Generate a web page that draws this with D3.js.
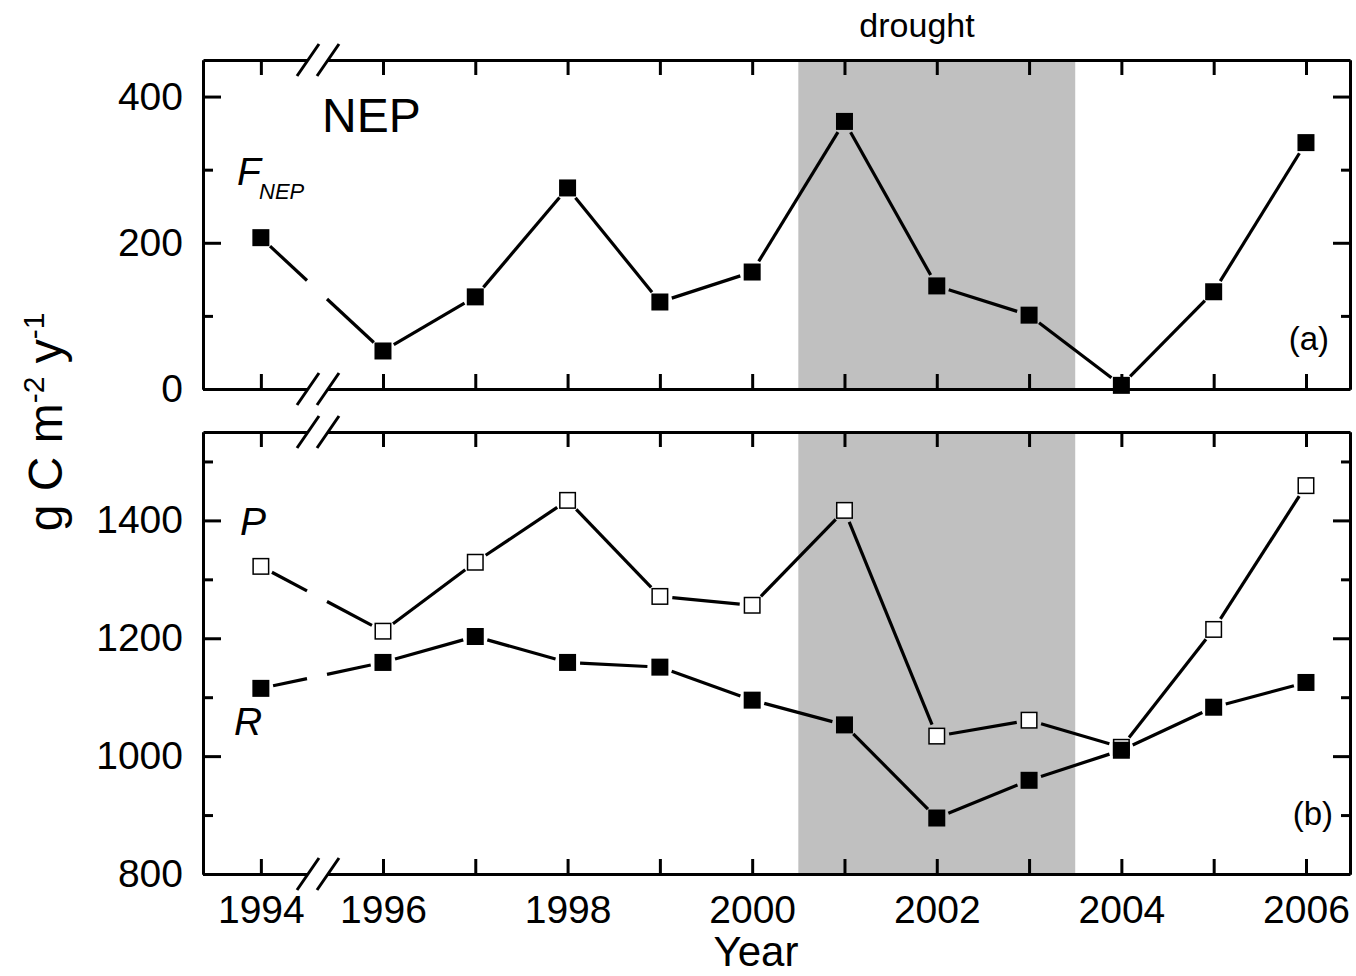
<!DOCTYPE html>
<html>
<head>
<meta charset="utf-8">
<script src="https://cdn.jsdelivr.net/npm/d3@7"></script>
<style>
  body { margin: 0; background: #fff; }
  svg { display: block; font-family: "Liberation Sans", Arial, sans-serif; }
</style>
</head>
<body>
<svg id="chart" width="1356" height="976"></svg>
<script>
// data
const years = [1994, 1996, 1997, 1998, 1999, 2000, 2001, 2002, 2003, 2004, 2005, 2006];
const fnep = [207, 52, 126, 275, 119, 160, 366, 141, 101, 5, 133, 337];
const pValues = [1322, 1212, 1329, 1434, 1271, 1256, 1417, 1034, 1061, 1015, 1215, 1459];
const rValues = [1115, 1159, 1203, 1159, 1151, 1095, 1053, 895, 959, 1010, 1083, 1125];
const droughtYears = [2000.5, 2003.5];
const xLabelYears = [1994, 1996, 1998, 2000, 2002, 2004, 2006];
const yTicksA = [0, 200, 400];
const yMinorA = [100, 300];
const yTicksB = [800, 1000, 1200, 1400];
const yMinorB = [900, 1100, 1300, 1500];

const svg = d3.select("#chart");
const left = 203, right = 1350;
const breakX = 318;

// broken x axis: 1994 sits left of the break, 1996..2006 to the right
const x = d3.scaleLinear()
    .domain([1993.372, 1994.62, 1995.296, 2006.477])
    .range([left, breakX, breakX, right]);

const panels = [
  { top: 60, bottom: 389, y: d3.scaleLinear().domain([0, 450]).range([389, 60]),
    major: yTicksA, minor: yMinorA, showX: false },
  { top: 432, bottom: 874, y: d3.scaleLinear().domain([800, 1550]).range([874, 432]),
    major: yTicksB, minor: yMinorB, showX: true }
];

const markerSize = 17, trim = 12.5;

function drawSeries(g, y, values, filled) {
  const pts = years.map((yr, i) => [x(yr), y(values[i])]);
  const segs = [];
  for (let i = 0; i < pts.length - 1; i++) {
    const [x0, y0] = pts[i], [x1, y1] = pts[i + 1];
    const len = Math.hypot(x1 - x0, y1 - y0);
    const ux = (x1 - x0) / len, uy = (y1 - y0) / len;
    const a = [x0 + ux * trim, y0 + uy * trim];
    const b = [x1 - ux * trim, y1 - uy * trim];
    if (x0 < breakX && x1 > breakX) {
      // gap where the line crosses the axis break
      const t0 = (breakX - 11 - x0) / (x1 - x0), t1 = (breakX + 9 - x0) / (x1 - x0);
      segs.push([a, [x0 + (x1 - x0) * t0, y0 + (y1 - y0) * t0]]);
      segs.push([[x0 + (x1 - x0) * t1, y0 + (y1 - y0) * t1], b]);
    } else {
      segs.push([a, b]);
    }
  }
  g.append("g").selectAll("line").data(segs).join("line")
    .attr("x1", d => d[0][0]).attr("y1", d => d[0][1])
    .attr("x2", d => d[1][0]).attr("y2", d => d[1][1])
    .attr("stroke", "#000").attr("stroke-width", 3.2);
  g.append("g").selectAll("rect").data(pts).join("rect")
    .attr("x", d => d[0] - markerSize / 2 + (filled ? 0 : 0.75))
    .attr("y", d => d[1] - markerSize / 2 + (filled ? 0 : 0.75))
    .attr("width", filled ? markerSize : markerSize - 1.5)
    .attr("height", filled ? markerSize : markerSize - 1.5)
    .attr("fill", filled ? "#000" : "#fff")
    .attr("stroke", filled ? "none" : "#000")
    .attr("stroke-width", 1.5);
}

function styleAxis(sel) {
  sel.select(".domain").attr("stroke-width", 3).attr("stroke", "#000");
  sel.selectAll(".tick line").attr("stroke-width", 3).attr("stroke", "#000");
  sel.selectAll("text").attr("font-size", 39).attr("fill", "#000")
    .attr("font-family", "Liberation Sans, Arial, sans-serif");
}

panels.forEach((p, pi) => {
  const g = svg.append("g");
  // drought shading
  g.append("rect")
    .attr("x", x(droughtYears[0])).attr("y", p.top)
    .attr("width", x(droughtYears[1]) - x(droughtYears[0]))
    .attr("height", p.bottom - p.top)
    .attr("fill", "#c0c0c0");

  if (pi === 0) {
    drawSeries(g, p.y, fnep, true);
  } else {
    drawSeries(g, p.y, pValues, false);
    drawSeries(g, p.y, rValues, true);
  }

  // x axes, inward ticks every year
  const bottomAx = g.append("g").attr("transform", `translate(0,${p.bottom})`)
    .call(d3.axisBottom(x).tickValues(years).tickSizeInner(-15).tickSizeOuter(0).tickPadding(21)
      .tickFormat(d => (p.showX && xLabelYears.includes(d)) ? d3.format("d")(d) : ""));
  styleAxis(bottomAx);
  const topAx = g.append("g").attr("transform", `translate(0,${p.top})`)
    .call(d3.axisTop(x).tickValues(years).tickSizeInner(-15).tickSizeOuter(0).tickFormat(""));
  styleAxis(topAx);

  // y axes, major and minor
  const lMaj = g.append("g").attr("transform", `translate(${left},0)`)
    .call(d3.axisLeft(p.y).tickValues(p.major).tickSizeInner(-18).tickSizeOuter(0).tickPadding(20).tickFormat(d3.format("d")));
  styleAxis(lMaj);
  const lMin = g.append("g").attr("transform", `translate(${left},0)`)
    .call(d3.axisLeft(p.y).tickValues(p.minor).tickSizeInner(-10).tickSizeOuter(0).tickFormat(""));
  styleAxis(lMin);
  const rMaj = g.append("g").attr("transform", `translate(${right},0)`)
    .call(d3.axisRight(p.y).tickValues(p.major).tickSizeInner(-17).tickSizeOuter(0).tickFormat(""));
  styleAxis(rMaj);
  const rMin = g.append("g").attr("transform", `translate(${right},0)`)
    .call(d3.axisRight(p.y).tickValues(p.minor).tickSizeInner(-9).tickSizeOuter(0).tickFormat(""));
  styleAxis(rMin);

  // break marks on top and bottom axes
  [p.top, p.bottom].forEach(yy => {
    g.append("rect").attr("x", breakX - 10).attr("y", yy - 3).attr("width", 20).attr("height", 6)
      .attr("fill", "#fff");
    [-10, 10].forEach(dx => {
      g.append("line")
        .attr("x1", breakX + dx - 11).attr("y1", yy + 16)
        .attr("x2", breakX + dx + 11).attr("y2", yy - 16)
        .attr("stroke", "#000").attr("stroke-width", 3);
    });
  });
});

// annotations
const txt = (s, xx, yy, size, opts = {}) => svg.append("text")
  .attr("x", xx).attr("y", yy).attr("font-size", size)
  .attr("text-anchor", opts.anchor || "start")
  .attr("font-style", opts.italic ? "italic" : "normal")
  .attr("fill", "#000").text(s);

txt("drought", 917, 37, 34, { anchor: "middle" });
txt("NEP", 322, 132, 48);
txt("F", 237, 185, 39, { italic: true });
txt("NEP", 259, 199, 22, { italic: true });
txt("(a)", 1329, 350, 33, { anchor: "end" });
txt("(b)", 1333, 825, 33, { anchor: "end" });
txt("P", 240, 535, 39, { italic: true });
txt("R", 234, 735, 39, { italic: true });
txt("Year", 756, 966, 42, { anchor: "middle" });

// y title, rotated
const yt = svg.append("text")
  .attr("transform", "translate(62,422) rotate(-90)")
  .attr("text-anchor", "middle").attr("font-size", 48).attr("fill", "#000");
yt.append("tspan").text("g C m");
yt.append("tspan").attr("font-size", 30).attr("dy", -18).text("-2");
yt.append("tspan").attr("font-size", 48).attr("dy", 18).text(" y");
yt.append("tspan").attr("font-size", 30).attr("dy", -18).text("-1");
</script>
</body>
</html>
